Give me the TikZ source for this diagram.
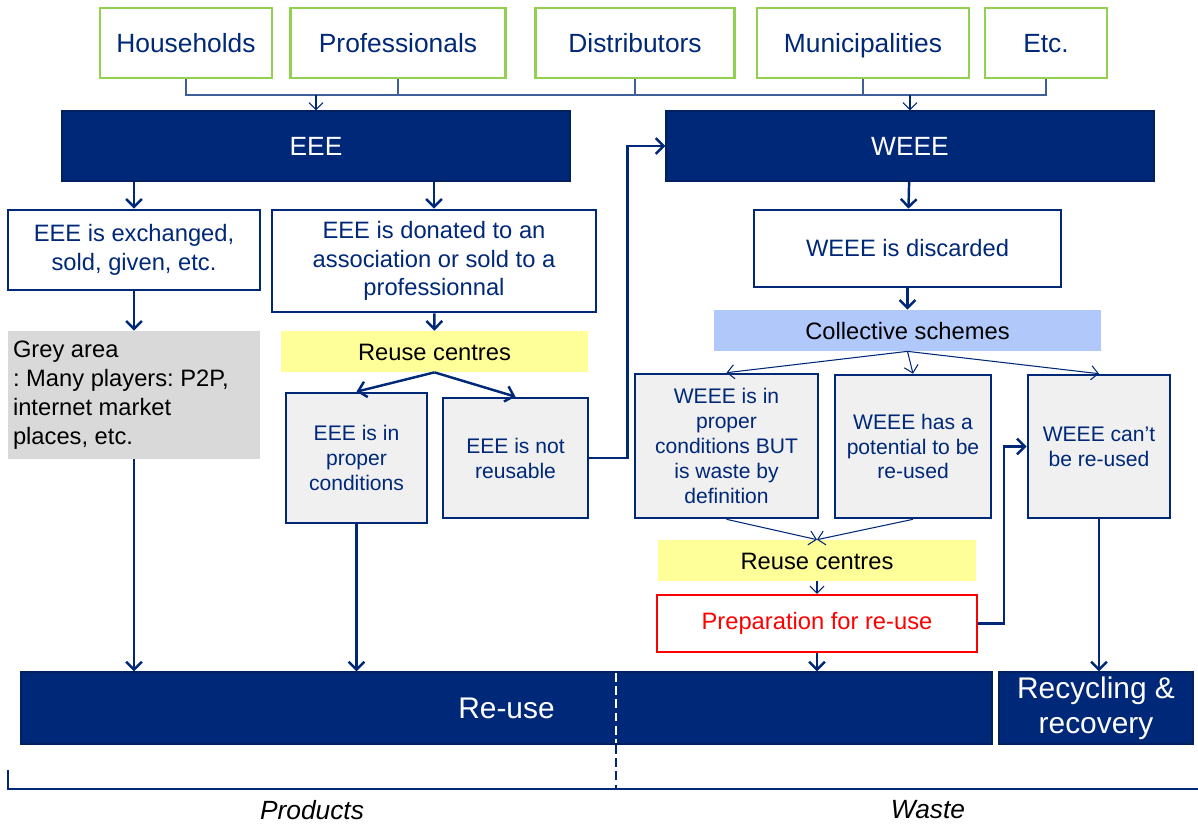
\documentclass[tikz,border=0pt]{standalone}
\usepackage{fontspec}
\setmainfont{Liberation Sans}
\usetikzlibrary{arrows.meta, positioning}
\definecolor{navy}{RGB}{0,40,120}
\definecolor{leaf}{RGB}{146,208,80}
\definecolor{lemon}{RGB}{255,255,153}
\definecolor{sky}{RGB}{176,200,250}
\definecolor{fog}{RGB}{217,217,217}
\definecolor{cellgrey}{RGB}{240,240,240}

\begin{document}
\begin{tikzpicture}[x=0.02cm, y=-0.02cm, inner sep=0pt,
    actor/.style={draw=leaf, line width=1.6pt, fill=white, text=navy, minimum height=1.4cm, text height=10.7pt, text depth=0pt, font=\fontsize{15}{18}\selectfont},
    stage/.style={draw=navy!80!black, line width=0.8pt, fill=navy, text=white, minimum height=1.4cm, font=\fontsize{15}{18}\selectfont},
    choice/.style={draw=navy, line width=1.5pt, fill=white, text=navy, align=center, font=\fontsize{13.5}{16.4}\selectfont},
    cell/.style={draw=navy, line width=1.5pt, fill=cellgrey, text=navy, align=center, font=\fontsize{12}{14.2}\selectfont},
    band/.style={minimum height=0.82cm, text=black, text height=9.7pt, text depth=0pt, font=\fontsize{13.5}{16.4}\selectfont},
    endbar/.style={draw=navy!80!black, line width=0.8pt, fill=navy, text=white, align=center, minimum height=1.44cm, font=\fontsize{17}{20}\selectfont},
    flow/.style={-{Straight Barb[length=4.5pt, width=9pt]}, navy, line width=1.4pt},
    fine/.style={-{Straight Barb[length=4pt, width=8pt]}, navy, line width=0.6pt}]

    \useasboundingbox (0,0) rectangle (1198,823);

    % who holds the equipment
    \node [actor, minimum width=3.44cm] (hh) at (186,43) {Households};
    \node [actor, minimum width=4.3cm] (prof) at (398,43) {Professionals};
    \node [actor, minimum width=3.98cm] (dist) at (635,43) {Distributors};
    \node [actor, minimum width=4.24cm] (muni) at (863,43) {Municipalities};
    \node [actor, minimum width=2.44cm] (etc) at (1046,43) {Etc.};
    \coordinate (bus) at (0,95);

    \node [stage, minimum width=10.16cm] (eee) at (316,146) {EEE};
    \node [stage, minimum width=9.76cm] (weee) at (910,146) {WEEE};

    % products side
    \node [choice, minimum width=5.04cm, minimum height=1.6cm] (exch) at (134,250) {EEE is exchanged,\\sold, given, etc.};
    \node [choice, minimum width=6.48cm, minimum height=2.04cm] (don) at (434,261) {EEE is donated to an\\association or sold to a\\professionnal};
    \node [fill=fog, minimum width=5.04cm, minimum height=2.56cm, inner xsep=0.1cm, text width=4.84cm, align=flush left, font=\fontsize{13.5}{16.4}\selectfont\frenchspacing] (grey) at (134,395) {Grey area\\: Many players: P2P,\\internet market\\places, etc.};
    \node [band, fill=lemon, minimum width=6.14cm] (reuseA) at (434.5,351.5) {Reuse centres};
    \node [cell, minimum width=2.82cm, minimum height=2.6cm] (propA) at (356.5,458) {EEE is in\\proper\\conditions};
    \node [cell, minimum width=2.9cm, minimum height=2.4cm] (notA) at (515.5,458) {EEE is not\\reusable};

    % waste side
    \node [choice, minimum width=6.14cm, minimum height=1.54cm] (disc) at (907.5,248.5) {WEEE is discarded};
    \node [band, fill=sky, minimum width=7.74cm] (coll) at (907.5,330.5) {Collective schemes};
    \node [cell, minimum width=3.66cm, minimum height=2.88cm] (wA) at (726.5,446) {WEEE is in\\proper\\conditions BUT\\is waste by\\definition};
    \node [cell, minimum width=3.12cm, minimum height=2.86cm] (wB) at (913,446.5) {WEEE has a\\potential to be\\re-used};
    \node [cell, minimum width=2.84cm, minimum height=2.86cm] (wC) at (1099,446.5) {WEEE can’t\\be re-used};
    \node [band, fill=lemon, minimum width=6.36cm] (reuseB) at (817,560.5) {Reuse centres};
    \node [draw=red, line width=1.3pt, fill=white, text=red, minimum width=6.4cm, minimum height=1.14cm, font=\fontsize{13.5}{16.4}\selectfont] (prep) at (817,623.5) {Preparation for re-use};

    % end of the chain
    \node [endbar, minimum width=19.42cm] (reuse) at (506.5,708) {Re-use};
    \node [endbar, minimum width=3.88cm] (recy) at (1096,708) {Recycling \&\\recovery};

    % connectors
    \draw [navy!75, line width=0.8pt] (hh.south) |- (etc.south |- bus) -- (etc.south);
    \foreach \n in {prof, dist, muni}
        \draw [navy!75, line width=0.8pt] (\n.south) -- (\n.south |- bus);
    \draw [fine] (eee.north |- bus) -- (eee.north);
    \draw [fine] (weee.north |- bus) -- (weee.north);

    \draw [flow] (eee.south -| exch) -- (exch.north);
    \draw [flow] (eee.south -| don) -- (don.north);
    \draw [flow] (exch) -- (grey);
    \draw [flow] (don) -- (reuseA);
    \draw [flow] (reuseA.south) -- (propA.north);
    \draw [flow] (reuseA.south) -- (notA.north);
    \draw [flow] (notA.east) -- ++(38,0) |- (weee.west);

    \draw [flow] (weee) -- (disc);
    \draw [flow] (disc) -- (coll);
    \draw [fine] (coll.south) -- (wA.north);
    \draw [fine] (coll.south) -- (wB.north);
    \draw [fine] (coll.south) -- (wC.north);
    \draw [fine] (wA.south) -- (reuseB.north);
    \draw [fine] (wB.south) -- (reuseB.north);
    \draw [fine] (reuseB) -- (prep);
    \draw [flow] (prep.east) -- ++(26,0) |- (wC.west);

    \draw [flow] (grey.south) -- (grey.south |- reuse.north);
    \draw [flow] (propA.south) -- (propA.south |- reuse.north);
    \draw [flow] (prep.south) -- (prep.south |- reuse.north);
    \draw [flow] (wC.south) -- (wC.south |- recy.north);

    % products / waste axis
    \draw [white, line width=0.8pt, dash pattern=on 5pt off 2.5pt] (616,673) -- (616,743);
    \draw [navy, line width=0.8pt, dash pattern=on 5pt off 2.5pt] (616,745) -- (616,789);
    \draw [navy, line width=1pt] (8,770) -- (8,789) -- (1198,789);
    \node [font=\fontsize{15}{18}\selectfont\itshape] (prod) at (312,810) {Products};
    \node [font=\fontsize{15}{18}\selectfont\itshape] (waste) at (928,810) {Waste};
\end{tikzpicture}
\end{document}
